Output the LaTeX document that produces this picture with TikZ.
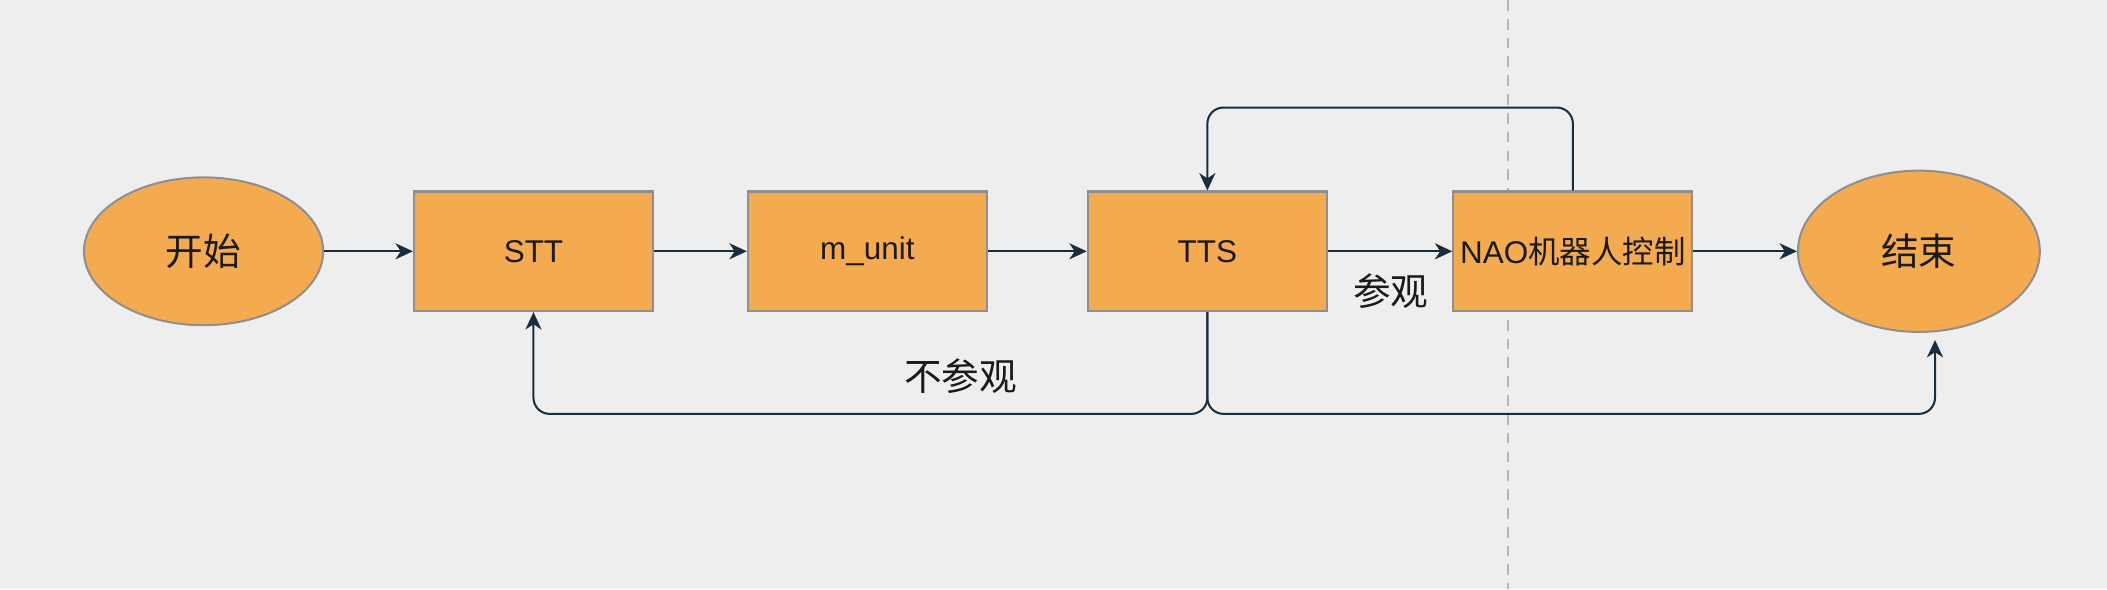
\documentclass[tikz,border=0pt]{standalone}
\usepackage{fontspec}
\setmainfont{Liberation Sans}
\newfontfamily\cjk{Noto Sans CJK SC}
\usetikzlibrary{arrows.meta,shapes.geometric}
\definecolor{bg}{HTML}{EEEEEE}
\definecolor{boxfill}{HTML}{F4AA4F}
\definecolor{boxline}{HTML}{8F8F8F}
\definecolor{edge}{HTML}{182E3E}
\definecolor{dashc}{HTML}{B5B5B5}
\definecolor{txt}{HTML}{1A1A1A}
\begin{document}
\begin{tikzpicture}[x=0.5pt,y=-0.5pt,
  proc/.style={draw=boxline, fill=boxfill, line width=0.75pt, minimum width=89pt, minimum height=44.5pt, inner sep=0pt, text=txt, font=\fontsize{11.7}{14}\selectfont},
  term/.style={ellipse, draw=boxline, fill=boxfill, line width=0.75pt, inner sep=0pt, text=txt, font=\fontsize{14}{16}\selectfont\cjk},
  flow/.style={draw=edge, line width=0.75pt, -{Stealth[length=6.5pt,width=6pt,inset=2pt]}, rounded corners=6pt},
  lbl/.style={font=\fontsize{14}{16}\selectfont\cjk, text=txt, inner sep=0pt}
]
\fill[bg] (0,0) rectangle (1568,438.33);
\useasboundingbox (0,0) rectangle (1568,438.33);
\coordinate (dtop) at (1122,0);
\coordinate (dbot) at (1122,438.33);
\draw[dashc, line width=0.6pt, dash pattern=on 4pt off 3pt] (dtop) -- (dbot);

\node[term, minimum width=89pt, minimum height=55pt] (start) at (151.5,187) {开始};
\node[proc] (stt) at (397,187) {STT};
\node[proc] (munit) at (645.5,187) {m\_unit};
\node[proc] (tts) at (898.5,187) {TTS};
\node[proc] (nao) at (1170.5,187) {NAO{\cjk 机器人控制}};
\node[term, minimum width=90pt, minimum height=60pt] (end) at (1428,187) {结束};

\coordinate (top) at (0,80);
\coordinate (bot) at (0,308);
\coordinate (endtip) at (1440,253);

\draw[flow] (start) -- (stt);
\draw[flow] (stt) -- (munit);
\draw[flow] (munit) -- (tts);
\draw[flow] (tts) -- (nao);
\draw[flow] (nao) -- (end);
\draw[flow] (nao.north) -- (nao.north |- top) -| (tts.north);
\draw[flow] (tts.south) -- (tts.south |- bot) -| (stt.south);
\draw[flow] (tts.south) -- (tts.south |- bot) -| (endtip);

\node[lbl] (l1) at (1035,217) {参观};
\node[lbl] (l2) at (715,280) {不参观};
\end{tikzpicture}
\end{document}
